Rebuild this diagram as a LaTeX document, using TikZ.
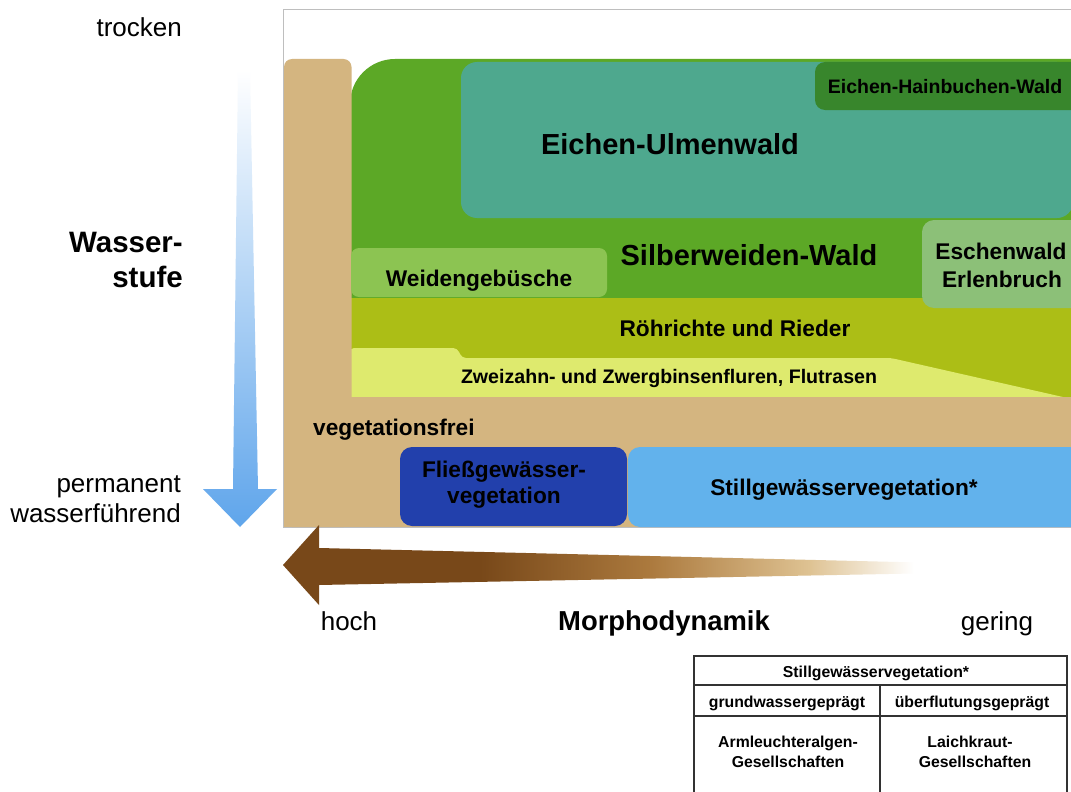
\documentclass[tikz,border=0pt]{standalone}
\usepackage{fontspec}
\setmainfont{Liberation Sans}
\definecolor{tanc}{RGB}{212,181,128}
\definecolor{greenc}{RGB}{92,168,38}
\definecolor{tealc}{RGB}{78,168,142}
\definecolor{ehwc}{RGB}{56,134,44}
\definecolor{weidenc}{RGB}{140,196,82}
\definecolor{eschenc}{RGB}{140,192,120}
\definecolor{olivec}{RGB}{172,190,22}
\definecolor{yellowc}{RGB}{222,234,110}
\definecolor{fliessc}{RGB}{34,64,172}
\definecolor{stillc}{RGB}{98,178,236}
\definecolor{arrowblue}{RGB}{95,165,235}
\definecolor{brA}{RGB}{120,72,25}
\definecolor{brB}{RGB}{172,122,62}
\definecolor{brC}{RGB}{222,194,146}
\definecolor{framec}{RGB}{190,190,190}
\definecolor{tabline}{RGB}{50,50,50}
\pgfdeclarehorizontalshading{brownfade}{100bp}{color(0bp)=(brA); color(25bp)=(brA); color(40bp)=(brA); color(53bp)=(brB); color(65bp)=(brC); color(73bp)=(white); color(100bp)=(white)}
\tikzset{
  lbl/.style={inner sep=0pt, anchor=base, text=black},
  bigb/.style={lbl, font=\fontsize{29}{34}\selectfont\bfseries},
  midb/.style={lbl, font=\fontsize{22.7}{27}\selectfont\bfseries},
  smallb/.style={lbl, font=\fontsize{19.6}{23}\selectfont\bfseries},
  axisr/.style={lbl, font=\fontsize{26}{30}\selectfont},
  axisb/.style={lbl, font=\fontsize{29.5}{34}\selectfont\bfseries},
  tabb/.style={lbl, font=\fontsize{15.8}{18}\selectfont\bfseries},
  tabrule/.style={draw=tabline, line width=1.4pt},
}
\begin{document}
\begin{tikzpicture}[x=1pt,y=-1pt]
\useasboundingbox (0,0) rectangle (1071,792);
\clip (0,0) rectangle (1071,792);
\fill[white] (0,0) rectangle (1071,792);
% frame
\draw[framec, line width=0.8pt, fill=white] (283,9.5) rectangle (1090,527.5);
% vegetation zones
\fill[greenc, rounded corners=45] (350,59) rectangle (1150,420);
\fill[olivec] (350,298) rectangle (1090,400);
\fill[yellowc, rounded corners=4] (350,402) -- (350,348) -- (457,348) -- (462,358) -- (891,358) -- (1085,402) -- cycle;
% tan (vegetationsfrei)
\fill[tanc, rounded corners=8] (284,59) rectangle (351.5,527);
\fill[tanc] (284,397) rectangle (1090,527);
% boxes
\fill[tealc, rounded corners=16] (461,62) rectangle (1073,218);
\fill[ehwc, rounded corners=10] (815,62) rectangle (1090,110);
\fill[weidenc, rounded corners=8] (351,248) rectangle (607,297);
\fill[eschenc, rounded corners=12] (922,220) rectangle (1095,308);
\fill[fliessc, rounded corners=12] (400,447) rectangle (627,526);
\fill[stillc, rounded corners=12] (628,447) rectangle (1095,527);
% Wasserstufe arrow
\shade[top color=white, bottom color=arrowblue] (238,70) -- (250,70) -- (258,489) -- (277,489) -- (240,527) -- (203,489) -- (233,489) -- cycle;
% Morphodynamik arrow
\shade[shading=brownfade] (283,565) -- (319,525) -- (319,548) -- (940,563) -- (940,573) -- (319,585) -- (319,605) -- cycle;
% labels in zones
\node[lbl, font=\fontsize{19.5}{23}\selectfont\bfseries] (ehw) at (945,93) {Eichen-Hainbuchen-Wald};
\node[bigb] (eu) at (670,154) {Eichen-Ulmenwald};
\node[bigb] (sw) at (749,265) {Silberweiden-Wald};
\node[midb] (wg) at (479,286) {Weidengebüsche};
\node[midb] (esch) at (1001,259) {Eschenwald};
\node[midb] (erl) at (1002,287) {Erlenbruch};
\node[midb] (rr) at (735,336) {Röhrichte und Rieder};
\node[smallb] (zw) at (669,383) {Zweizahn- und Zwergbinsenfluren, Flutrasen};
\node[midb, anchor=base west] (vf) at (313,435) {vegetationsfrei};
\node[midb] (fg1) at (504,477) {Fließgewässer-};
\node[midb] (fg2) at (504,503) {vegetation};
\node[midb] (sg) at (844,495) {Stillgewässervegetation*};
% axis labels
\node[axisr, anchor=base east] (tr) at (182,37) {trocken};
\node[axisb, anchor=base east] (ws1) at (183,252) {Wasser-};
\node[axisb, anchor=base east] (ws2) at (183,287) {stufe};
\node[axisr, anchor=base east] (pm1) at (181,492) {permanent};
\node[axisr, anchor=base east] (pm2) at (181,522) {wasserführend};
\node[axisr] (ho) at (349,630) {hoch};
\node[lbl, font=\fontsize{27.4}{32}\selectfont\bfseries] (md) at (664,630) {Morphodynamik};
\node[axisr] (ge) at (997,630) {gering};
% table
\draw[tabrule] (694,800) -- (694,656) -- (1067,656) -- (1067,800);
\draw[tabrule] (694,685) -- (1067,685);
\draw[tabrule] (694,716) -- (1067,716);
\draw[tabrule] (880,685) -- (880,800);
\node[tabb] (t0) at (876,677) {Stillgewässervegetation*};
\node[tabb] (t1) at (787,707) {grundwassergeprägt};
\node[tabb] (t2) at (972,707) {überflutungsgeprägt};
\node[tabb] (t3) at (788,747) {Armleuchteralgen-};
\node[tabb] (t4) at (788,767) {Gesellschaften};
\node[tabb] (t5) at (970,747) {Laichkraut-};
\node[tabb] (t6) at (975,767) {Gesellschaften};
\end{tikzpicture}
\end{document}
